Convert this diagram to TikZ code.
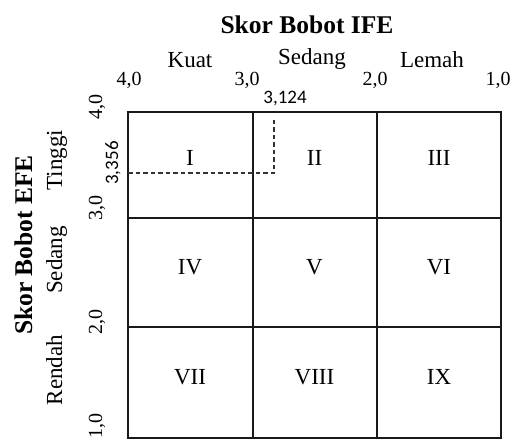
\documentclass[tikz,border=0pt]{standalone}
\usepackage{fontspec}
\setmainfont{Liberation Serif}
\newfontfamily\calibfont{Carlito}
\begin{document}
\begin{tikzpicture}[x=1pt,y=-1pt,
  gridline/.style={line width=2pt, black!90},
  guide/.style={line width=1.5pt, dash pattern=on 4.5pt off 3pt, black!80},
  titletext/.style={font=\fontsize{25.5}{28}\selectfont\bfseries, inner sep=0},
  cattext/.style={font=\fontsize{23}{25}\selectfont, inner sep=0},
  ticktext/.style={font=\fontsize{20}{22}\selectfont, inner sep=0},
  valtext/.style={font=\calibfont\fontsize{19}{21}\selectfont, inner sep=0},
  celltext/.style={font=\fontsize{23}{25}\selectfont, inner sep=0}]
\useasboundingbox (0,0) rectangle (512,440);
% grid corners
\coordinate (g00) at (128,112);
\coordinate (g33) at (501,438);
\coordinate (v1t) at (252.5,112); \coordinate (v1b) at (252.5,438);
\coordinate (v2t) at (377,112);   \coordinate (v2b) at (377,438);
\coordinate (h1l) at (128,218);   \coordinate (h1r) at (501,218);
\coordinate (h2l) at (128,327);   \coordinate (h2r) at (501,327);
\draw[gridline] (g00) rectangle (g33);
\draw[gridline] (v1t) -- (v1b);
\draw[gridline] (v2t) -- (v2b);
\draw[gridline] (h1l) -- (h1r);
\draw[gridline] (h2l) -- (h2r);
% dashed position guides
\coordinate (pos) at (274,173);
\coordinate (posT) at (274,120);
\coordinate (posL) at (128,173);
\draw[guide] (posL) -- (pos) -- (posT);
% cell labels
\node[celltext] (cI)    at (190,158)   {I};
\node[celltext] (cII)   at (314.5,158) {II};
\node[celltext] (cIII)  at (439,158)   {III};
\node[celltext] (cIV)   at (190,267)   {IV};
\node[celltext] (cV)    at (314.5,267) {V};
\node[celltext] (cVI)   at (439,267)   {VI};
\node[celltext] (cVII)  at (190,377)   {VII};
\node[celltext] (cVIII) at (314.5,377) {VIII};
\node[celltext] (cIX)   at (439,377)   {IX};
% top axis
\node[titletext, anchor=base] (ife) at (307,33) {Skor Bobot IFE};
\node[cattext, anchor=base] (kuat) at (190,67) {Kuat};
\node[cattext, anchor=base] (sedangx) at (312,64) {Sedang};
\node[cattext, anchor=base] (lemah) at (432,67) {Lemah};
\node[ticktext, anchor=base] (tx4) at (129,85) {4,0};
\node[ticktext, anchor=base] (tx3) at (247,85) {3,0};
\node[ticktext, anchor=base] (tx2) at (375,85) {2,0};
\node[ticktext, anchor=base] (tx1) at (498,85) {1,0};
\node[valtext, anchor=base] (vx) at (285,103) {3,124};
% left axis
\node[titletext, rotate=90, anchor=base] (efe) at (32,245) {Skor Bobot EFE};
\node[cattext, rotate=90, anchor=base] (tinggi) at (62,160) {Tinggi};
\node[cattext, rotate=90, anchor=base] (sedangy) at (62,260) {Sedang};
\node[cattext, rotate=90, anchor=base] (rendah) at (62,370) {Rendah};
\node[ticktext, rotate=90, anchor=base] (ty4) at (102,107) {4,0};
\node[ticktext, rotate=90, anchor=base] (ty3) at (102,208) {3,0};
\node[ticktext, rotate=90, anchor=base] (ty2) at (102,322) {2,0};
\node[ticktext, rotate=90, anchor=base] (ty1) at (102,426) {1,0};
\node[valtext, rotate=90, anchor=base] (vy) at (118,163) {3,356};
\end{tikzpicture}
\end{document}
